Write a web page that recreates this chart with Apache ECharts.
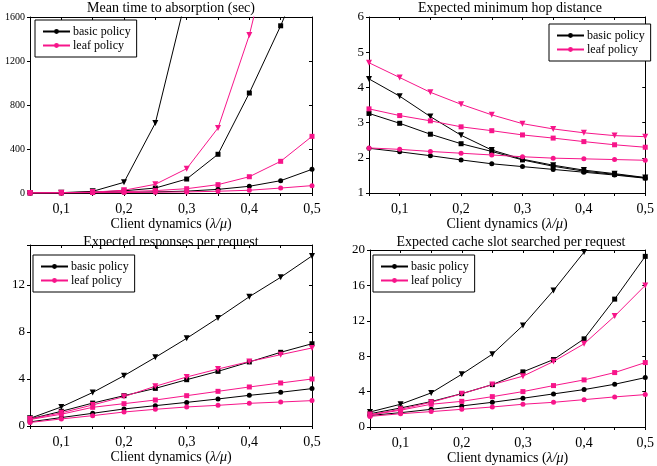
<!DOCTYPE html>
<html><head><meta charset="utf-8">
<script src="https://cdn.jsdelivr.net/npm/echarts@6/dist/echarts.min.js"></script>
<style>html,body{margin:0;padding:0;background:#fff}#c{width:657px;height:466px}</style>
</head><body><div id="c"></div>
<script>
// ---- data ----
const xValues = [0.05, 0.10, 0.15, 0.20, 0.25, 0.30, 0.35, 0.40, 0.45, 0.50];
const legendNames = ['basic policy', 'leaf policy'];
const titles = ['Mean time to absorption (sec)', 'Expected minimum hop distance',
                'Expected responses per request', 'Expected cache slot searched per request'];
const xAxisName = 'Client dynamics ({i|λ/μ})';

// Panel 1: mean time to absorption (null = beyond the plotted range, not visible)
const absBasicCircle = [0, 1, 3, 6, 10, 17, 33, 61, 112, 215];
const absBasicSquare = [0, 2, 8, 20, 45, 127, 352, 909, 1520, 2200];
const absBasicTri    = [0, 3, 15, 97, 636, 1800, null, null, null, null];
const absLeafCircle  = [0, 1, 2, 4, 7, 10, 16, 25, 45, 67];
const absLeafSquare  = [0, 1, 5, 12, 22, 39, 76, 148, 288, 515];
const absLeafTri     = [0, 2, 8, 25, 79, 221, 591, 1436, 2600, null];
const absTicks = [0, 400, 800, 1200, 1600];

// Panel 2: expected minimum hop distance
const hopBasicCircle = [2.27, 2.17, 2.06, 1.94, 1.83, 1.75, 1.67, 1.59, 1.51, 1.42];
const hopBasicSquare = [3.26, 2.98, 2.67, 2.40, 2.18, 1.94, 1.76, 1.62, 1.53, 1.43];
const hopBasicTri    = [4.24, 3.75, 3.17, 2.64, 2.22, 1.96, 1.79, 1.65, 1.55, 1.44];
const hopLeafCircle  = [2.28, 2.24, 2.18, 2.13, 2.08, 2.03, 1.99, 1.97, 1.95, 1.93];
const hopLeafSquare  = [3.39, 3.20, 3.05, 2.88, 2.77, 2.65, 2.56, 2.46, 2.37, 2.30];
const hopLeafTri     = [4.70, 4.28, 3.86, 3.52, 3.22, 2.97, 2.82, 2.71, 2.63, 2.60];
const hopTicks = [1, 2, 3, 4, 5, 6];

// Panel 3: expected responses per request
const respBasicCircle = [0.35, 0.72, 1.08, 1.45, 1.73, 2.01, 2.30, 2.61, 2.87, 3.18];
const respBasicSquare = [0.60, 1.25, 1.95, 2.58, 3.20, 3.94, 4.65, 5.45, 6.27, 7.00];
const respBasicTri    = [0.65, 1.62, 2.85, 4.28, 5.84, 7.46, 9.19, 11.0, 12.65, 14.47];
const respLeafCircle  = [0.30, 0.60, 0.88, 1.19, 1.42, 1.62, 1.76, 1.93, 2.04, 2.16];
const respLeafSquare  = [0.55, 1.00, 1.59, 1.90, 2.21, 2.58, 2.95, 3.32, 3.66, 4.00];
const respLeafTri     = [0.60, 1.12, 1.79, 2.50, 3.38, 4.17, 4.85, 5.48, 6.07, 6.64];
const respTicks = [0, 4, 8, 12];

// Panel 4: expected cache slot searched per request
const cacheBasicCircle = [1.30, 1.62, 2.00, 2.38, 2.79, 3.25, 3.74, 4.23, 4.83, 5.58];
const cacheBasicSquare = [1.50, 2.15, 2.87, 3.77, 4.79, 6.23, 7.62, 9.96, 14.45, 19.28];
const cacheBasicTri    = [1.70, 2.57, 3.85, 5.96, 8.23, 11.47, 15.43, 19.77, 26, null];
const cacheLeafCircle  = [1.20, 1.50, 1.74, 2.00, 2.26, 2.57, 2.79, 3.09, 3.40, 3.66];
const cacheLeafSquare  = [1.35, 1.90, 2.57, 2.90, 3.43, 4.00, 4.68, 5.32, 6.15, 7.28];
const cacheLeafTri     = [1.40, 2.00, 2.80, 3.75, 4.79, 5.74, 7.40, 9.40, 12.53, 16.00];
const cacheTicks = [0, 4, 8, 12, 16, 20];

// ---- styling / layout ----
const FONT = '"Liberation Serif", "Times New Roman", serif';
const BLACK = '#000000';
const PINK = '#f7158a';

const panels = [
  { title: titles[0], grid: {left: 30, top: 17, width: 282, height: 176}, titlePos: [171, 1],
    yMin: 0, yMax: 1600, yInt: 400, yTicks: absTicks, yFont: 10, nameGap: 20, legendPos: [35, 20],
    data: [absBasicCircle, absBasicSquare, absBasicTri, absLeafCircle, absLeafSquare, absLeafTri] },
  { title: titles[1], grid: {left: 369, top: 17, width: 283, height: 176}, titlePos: [510, 1],
    yMin: 1, yMax: 6, yInt: 1, yTicks: hopTicks, yFont: 13, nameGap: 18, legendPos: [549, 24],
    data: [hopBasicCircle, hopBasicSquare, hopBasicTri, hopLeafCircle, hopLeafSquare, hopLeafTri] },
  { title: titles[2], grid: {left: 30, top: 245, width: 282, height: 181}, titlePos: [171, 235],
    yMin: 0, yMax: 15.4, yInt: 4, yTicks: respTicks, yFont: 13, nameGap: 20, legendPos: [33, 255],
    data: [respBasicCircle, respBasicSquare, respBasicTri, respLeafCircle, respLeafSquare, respLeafTri] },
  { title: titles[3], grid: {left: 370, top: 250, width: 282, height: 177}, titlePos: [511, 235],
    yMin: 0, yMax: 20, yInt: 4, yTicks: cacheTicks, yFont: 13, nameGap: 18, legendPos: [373, 255],
    data: [cacheBasicCircle, cacheBasicSquare, cacheBasicTri, cacheLeafCircle, cacheLeafSquare, cacheLeafTri] }
];

const seriesStyles = [
  {name: legendNames[0], color: BLACK, symbol: 'circle', size: 5, rot: 0},
  {name: legendNames[0], color: BLACK, symbol: 'rect', size: 5, rot: 0},
  {name: legendNames[0], color: BLACK, symbol: 'triangle', size: 6, rot: 180},
  {name: legendNames[1], color: PINK, symbol: 'circle', size: 5, rot: 0},
  {name: legendNames[1], color: PINK, symbol: 'rect', size: 5, rot: 0},
  {name: legendNames[1], color: PINK, symbol: 'triangle', size: 6, rot: 180}
];

const xFmt = v => (Math.round(v * 20) % 2 === 0) ? v.toFixed(1).replace('.', ',') : '';

const option = {
  backgroundColor: '#ffffff',
  animation: false,
  title: [], grid: [], xAxis: [], yAxis: [], legend: [], series: []
};

panels.forEach((p, i) => {
  option.title.push({
    text: p.title, left: p.titlePos[0], top: p.titlePos[1], textAlign: 'center', padding: 0,
    textStyle: {fontFamily: FONT, fontSize: 14, fontWeight: 'normal', color: BLACK}
  });
  option.grid.push(Object.assign({containLabel: false}, p.grid));
  // bottom x axis
  option.xAxis.push({
    gridIndex: i, type: 'value', min: 0.05, max: 0.5, interval: 0.05, position: 'bottom',
    axisLine: {show: true, onZero: false, lineStyle: {color: BLACK, width: 1}},
    axisTick: {show: true, inside: false, length: 3, lineStyle: {color: BLACK}},
    axisLabel: {formatter: xFmt, fontFamily: FONT, fontSize: 14, color: BLACK, margin: 9},
    splitLine: {show: false},
    name: xAxisName, nameLocation: 'middle', nameGap: p.nameGap,
    nameTextStyle: {fontFamily: FONT, fontSize: 14, color: BLACK,
      rich: {i: {fontFamily: FONT, fontSize: 14, fontStyle: 'italic', color: BLACK}}}
  });
  // top x axis (mirror)
  option.xAxis.push({
    gridIndex: i, type: 'value', min: 0.05, max: 0.5, interval: 0.05, position: 'top',
    axisLine: {show: true, onZero: false, lineStyle: {color: BLACK, width: 1}},
    axisTick: {show: true, inside: true, length: 3, lineStyle: {color: BLACK}},
    axisLabel: {show: false}, splitLine: {show: false}
  });
  // left y axis
  option.yAxis.push({
    gridIndex: i, type: 'value', min: p.yMin, max: p.yMax, interval: p.yInt, position: 'left',
    axisLine: {show: true, onZero: false, lineStyle: {color: BLACK, width: 1}},
    axisTick: {show: true, inside: false, length: 3, lineStyle: {color: BLACK}},
    axisLabel: {fontFamily: FONT, fontSize: p.yFont, color: BLACK, margin: 5,
      formatter: v => p.yTicks.some(t => Math.abs(t - v) < 1e-9) ? String(v) : ''},
    splitLine: {show: false}
  });
  // right y axis (mirror)
  option.yAxis.push({
    gridIndex: i, type: 'value', min: p.yMin, max: p.yMax, interval: p.yInt, position: 'right',
    axisLine: {show: true, onZero: false, lineStyle: {color: BLACK, width: 1}},
    axisTick: {show: true, inside: true, length: 3, lineStyle: {color: BLACK}},
    axisLabel: {show: false}, splitLine: {show: false}
  });
  option.legend.push({
    orient: 'vertical', left: p.legendPos[0], top: p.legendPos[1],
    data: legendNames.slice(),
    borderColor: BLACK, borderWidth: 1, borderRadius: 0, backgroundColor: '#ffffff',
    padding: [5, 6, 5, 7], itemGap: 1, itemWidth: 27, itemHeight: 6,
    textStyle: {fontFamily: FONT, fontSize: 12, color: BLACK, padding: [0, 0, 0, -2], lineHeight: 13},
    selectedMode: false
  });
  p.data.forEach((vals, k) => {
    const st = seriesStyles[k];
    option.series.push({
      type: 'line', name: st.name, xAxisIndex: 2 * i, yAxisIndex: 2 * i,
      data: xValues.map((x, j) => [x, vals[j]]),
      symbol: st.symbol, symbolSize: st.size, symbolRotate: st.rot, showSymbol: true,
      lineStyle: {color: st.color, width: 1}, itemStyle: {color: st.color},
      clip: true, z: 2 + k
    });
  });
});

const chart = echarts.init(document.getElementById('c'), null, {renderer: 'canvas'});
chart.setOption(option);
</script>
</body></html>
